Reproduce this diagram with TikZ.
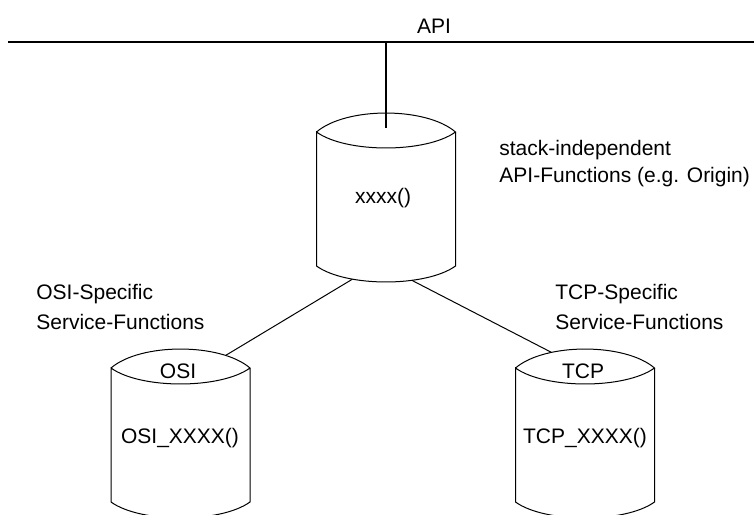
\documentclass[tikz,border=0pt]{standalone}
\usepackage{fontspec}
\setmainfont{Liberation Sans}
\usetikzlibrary{positioning}
\tikzset{
    outline/.style={line width=0.5pt},
    busline/.style={line width=1.2pt},
    txt/.style={inner sep=0pt, font=\fontsize{10.5}{12.6}\selectfont},
    pics/dbcyl/.style={code={
        \coordinate (-mid) at (0,-4);
        \draw[outline] (-69.5,0) .. controls (-40,-25.3) and (40,-25.3) .. (69.5,0)
            coordinate[pos=.29] (-tl) coordinate[pos=.79] (-tr)
            .. controls (40,21.3) and (-40,21.3) .. (-69.5,0)
            -- (-69.5,134) .. controls (-40,155.3) and (40,155.3) .. (69.5,134)
            coordinate[pos=.29] (-bl) coordinate[pos=.66] (-br)
            -- (69.5,0);
    }}
}

\begin{document}
\begin{tikzpicture}[x=0.5pt, y=-0.5pt]
    \useasboundingbox (0,0) rectangle (754,514);
    % API bus
    \node[txt] (api) at (434,26) {API};
    \coordinate (busL) at (8,42);
    \coordinate (busR) at (754,42);
    \draw[busline] (busL) -- (busR);
    % the three stacks
    \pic (big) at (386,132) {dbcyl};
    \pic (osi) at (180.5,368) {dbcyl};
    \pic (tcp) at (585,368) {dbcyl};
    \node[txt] (xfun) at (383,198) {xxxx()};
    \node[txt] (osiname) at (178,371) {OSI};
    \node[txt] (osifun) at (180,438) {OSI\_XXXX()};
    \node[txt] (tcpname) at (583,371) {TCP};
    \node[txt] (tcpfun) at (585,438) {TCP\_XXXX()};
    % notes
    \node[txt, anchor=west] (indep1) at (499,150) {stack-independent};
    \node[txt, anchor=west] (indep2) at (499,177) {API-Functions (e.g. Origin)};
    \node[txt, anchor=west] (osinote1) at (36,294) {OSI-Specific};
    \node[txt, anchor=west] (osinote2) at (36,322) {Service-Functions};
    \node[txt, anchor=west] (tcpnote1) at (555,294) {TCP-Specific};
    \node[txt, anchor=west] (tcpnote2) at (555,322) {Service-Functions};
    % links
    \draw[busline] (big-mid |- busL) -- (big-mid);
    \draw[outline]
    (osi-tr) edge (big-bl)
    (tcp-tl) edge (big-br);
\end{tikzpicture}
\end{document}
